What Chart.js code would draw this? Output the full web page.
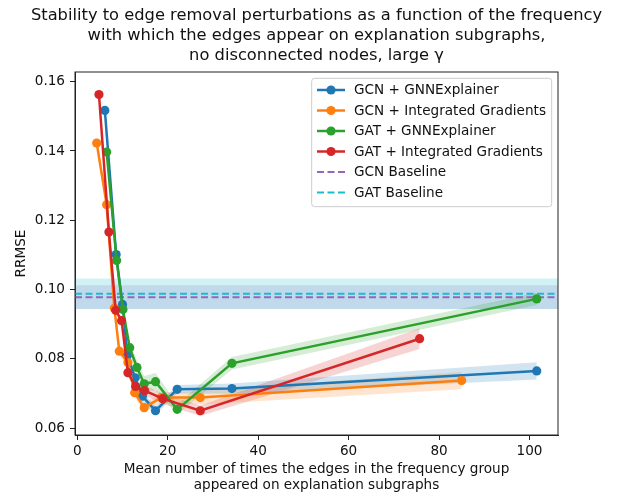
<!DOCTYPE html>
<html>
<head>
<meta charset="utf-8">
<script src="https://cdn.jsdelivr.net/npm/chart.js@4"></script>
<style>
    body { margin: 0; background: #fff; }
    #wrap { width: 618px; height: 500px; }
</style>
</head>
<body>
<div id="wrap"><canvas id="chart" width="618" height="500"></canvas></div>
<script>
// values
const titleLines = [
    'Stability to edge removal perturbations as a function of the frequency',
    'with which the edges appear on explanation subgraphs,',
    'no disconnected nodes, large γ',
]
const xTitleLines = ['Mean number of times the edges in the frequency group', 'appeared on explanation subgraphs']
const yTitle = 'RRMSE'
const xTicks = [0, 20, 40, 60, 80, 100]
const yTicks = [0.06, 0.08, 0.10, 0.12, 0.14, 0.16]
const xRange = [-0.5, 106.3]
const yRange = [0.058, 0.1628]

const labels = ['GCN + GNNExplainer', 'GCN + Integrated Gradients', 'GAT + GNNExplainer', 'GAT + Integrated Gradients']
const colors = ['#1f77b4', '#ff7f0e', '#2ca02c', '#d62728']

const gcnExpX = [6.1, 8.6, 10.0, 11.1, 12.8, 14.4, 17.3, 22.1, 34.2, 101.6]
const gcnExpY = [0.1517, 0.1101, 0.0957, 0.0810, 0.0745, 0.0692, 0.0650, 0.0712, 0.0714, 0.0765]
const gcnExpErr = [0.001, 0.001, 0.001, 0.0015, 0.0015, 0.0015, 0.0012, 0.0012, 0.0015, 0.0025]

const gcnIgX = [4.3, 6.5, 8.2, 9.3, 11.2, 12.7, 14.8, 18.6, 27.2, 85.0]
const gcnIgY = [0.1423, 0.1245, 0.0946, 0.0822, 0.0789, 0.0702, 0.0659, 0.0688, 0.0688, 0.0737]
const gcnIgErr = [0.002, 0.0015, 0.0012, 0.0012, 0.0015, 0.0015, 0.0012, 0.0015, 0.002, 0.0025]

const gatExpX = [6.5, 8.7, 10.1, 11.6, 13.2, 14.8, 17.3, 22.1, 34.2, 101.6]
const gatExpY = [0.1397, 0.1084, 0.0942, 0.0832, 0.0775, 0.0728, 0.0734, 0.0654, 0.0787, 0.0973]
const gatExpErr = [0.001, 0.001, 0.001, 0.0015, 0.002, 0.0022, 0.0025, 0.0015, 0.0018, 0.0018]

const gatIgX = [4.8, 7.0, 8.5, 9.8, 11.2, 12.9, 14.9, 18.9, 27.2, 75.7]
const gatIgY = [0.1563, 0.1166, 0.0940, 0.0910, 0.0760, 0.0720, 0.0708, 0.0685, 0.0650, 0.0858]
const gatIgErr = [0.0015, 0.001, 0.001, 0.001, 0.0012, 0.0012, 0.0015, 0.0015, 0.0015, 0.003]

const baseLabels = ['GCN Baseline', 'GAT Baseline']
const baseColors = ['#9467bd', '#17becf']
const baseValues = [0.0978, 0.0988]
const baseErr = [0.0034, 0.0044]

const FONT = "'DejaVu Sans', sans-serif"

const seriesX = [gcnExpX, gcnIgX, gatExpX, gatIgX]
const seriesY = [gcnExpY, gcnIgY, gatExpY, gatIgY]
const seriesErr = [gcnExpErr, gcnIgErr, gatExpErr, gatIgErr]

const rgba = (hex, a) => {
    let n = parseInt(hex.slice(1), 16)
    return `rgba(${n >> 16},${(n >> 8) & 255},${n & 255},${a})`
}
const pts = (xs, ys, shift = []) => xs.map((x, i) => ({ x: x, y: ys[i] + (shift[i] || 0) }))

let datasets = []
// series lines, red drawn on top
labels.forEach((label, i) => {
    datasets.push({
        label: label,
        data: pts(seriesX[i], seriesY[i]),
        borderColor: colors[i],
        backgroundColor: colors[i],
        borderWidth: 2.5,
        pointRadius: 4.6,
        pointBorderWidth: 0,
        pointHoverRadius: 4.6,
        fill: false,
        order: 4 - i,
    })
})
// baseline dashed lines
baseLabels.forEach((label, i) => {
    datasets.push({
        label: label,
        data: [{ x: xRange[0], y: baseValues[i] }, { x: xRange[1], y: baseValues[i] }],
        borderColor: baseColors[i],
        borderWidth: 2,
        borderDash: [7, 3.5],
        pointRadius: 0,
        fill: false,
        order: 6 - i,
    })
})
// shaded bands, upper/lower pairs
labels.forEach((label, i) => {
    let up = datasets.length
    datasets.push({
        data: pts(seriesX[i], seriesY[i], seriesErr[i]),
        borderWidth: 0, pointRadius: 0, fill: false, order: 10 + i,
    })
    datasets.push({
        data: pts(seriesX[i], seriesY[i], seriesErr[i].map(e => -e)),
        borderWidth: 0, pointRadius: 0,
        fill: { target: up }, backgroundColor: rgba(colors[i], 0.2), order: 10 + i,
    })
})
baseLabels.forEach((label, i) => {
    let up = datasets.length
    datasets.push({
        data: [{ x: xRange[0], y: baseValues[i] + baseErr[i] }, { x: xRange[1], y: baseValues[i] + baseErr[i] }],
        borderWidth: 0, pointRadius: 0, fill: false, order: 21 - i,
    })
    datasets.push({
        data: [{ x: xRange[0], y: baseValues[i] - baseErr[i] }, { x: xRange[1], y: baseValues[i] - baseErr[i] }],
        borderWidth: 0, pointRadius: 0,
        fill: { target: up }, backgroundColor: rgba(baseColors[i], 0.2), order: 21 - i,
    })
})

const decorPlugin = {
    id: 'decor',
    afterDraw(chart) {
        let ctx = chart.ctx
        let a = chart.chartArea
        ctx.save()
        // frame
        ctx.strokeStyle = '#222'
        ctx.lineWidth = 1
        ctx.strokeRect(a.left, a.top, a.right - a.left, a.bottom - a.top)

        ctx.fillStyle = '#111'
        ctx.textAlign = 'center'
        ctx.textBaseline = 'middle'
        let cx = (a.left + a.right) / 2
        ctx.font = `16.3px ${FONT}`
        titleLines.forEach((t, i) => ctx.fillText(t, cx, 15.5 + i * 20))

        ctx.font = `13.6px ${FONT}`
        xTitleLines.forEach((t, i) => ctx.fillText(t, cx, 469 + i * 16))
        ctx.save()
        ctx.translate(21, (a.top + a.bottom) / 2)
        ctx.rotate(-Math.PI / 2)
        ctx.fillText(yTitle, 0, 0)
        ctx.restore()

        // legend
        let bx = 311.7, by = 78.3, bw = 240, bh = 128.4
        ctx.beginPath()
        ctx.roundRect(bx, by, bw, bh, 3)
        ctx.fillStyle = 'rgba(255,255,255,0.8)'
        ctx.fill()
        ctx.strokeStyle = '#cccccc'
        ctx.lineWidth = 1
        ctx.stroke()

        let items = labels.map((l, i) => ({ text: l, color: colors[i], dash: false }))
            .concat(baseLabels.map((l, i) => ({ text: l, color: baseColors[i], dash: true })))
        ctx.textAlign = 'left'
        items.forEach((it, i) => {
            let y = 90 + i * 20.5
            ctx.strokeStyle = it.color
            ctx.lineWidth = it.dash ? 2 : 2.5
            ctx.setLineDash(it.dash ? [7, 3.5] : [])
            ctx.beginPath()
            ctx.moveTo(317, y)
            ctx.lineTo(345, y)
            ctx.stroke()
            ctx.setLineDash([])
            if (!it.dash) {
                ctx.fillStyle = it.color
                ctx.beginPath()
                ctx.arc(331, y, 4.6, 0, Math.PI * 2)
                ctx.fill()
            }
            ctx.fillStyle = '#111'
            ctx.fillText(it.text, 354, y + 0.5)
        })
        ctx.restore()
    }
}

new Chart(document.getElementById('chart'), {
    type: 'line',
    data: { datasets: datasets },
    options: {
        responsive: false,
        animation: false,
        events: [],
        layout: { padding: { top: 72, right: 60, left: 0, bottom: 0 } },
        plugins: {
            legend: { display: false },
            title: { display: false },
            tooltip: { enabled: false },
        },
        scales: {
            x: {
                type: 'linear',
                min: xRange[0],
                max: xRange[1],
                afterBuildTicks: (s) => { s.ticks = xTicks.map(v => ({ value: v })) },
                afterFit: (s) => { s.height = 65 },
                grid: { drawOnChartArea: false, drawTicks: true, tickLength: 5, color: '#222', tickColor: '#222' },
                border: { display: true, color: '#222' },
                ticks: {
                    color: '#111',
                    font: { family: FONT, size: 13.6 },
                    padding: 3,
                    maxRotation: 0,
                    callback: (v) => String(v),
                },
            },
            y: {
                type: 'linear',
                min: yRange[0],
                max: yRange[1],
                afterBuildTicks: (s) => { s.ticks = yTicks.map(v => ({ value: v })) },
                afterFit: (s) => { s.width = 75 },
                grid: { drawOnChartArea: false, drawTicks: true, tickLength: 5, color: '#222', tickColor: '#222' },
                border: { display: true, color: '#222' },
                ticks: {
                    color: '#111',
                    font: { family: FONT, size: 13.6 },
                    padding: 5,
                    callback: (v) => v.toFixed(2),
                },
            },
        },
    },
    plugins: [decorPlugin],
})
</script>
</body>
</html>
